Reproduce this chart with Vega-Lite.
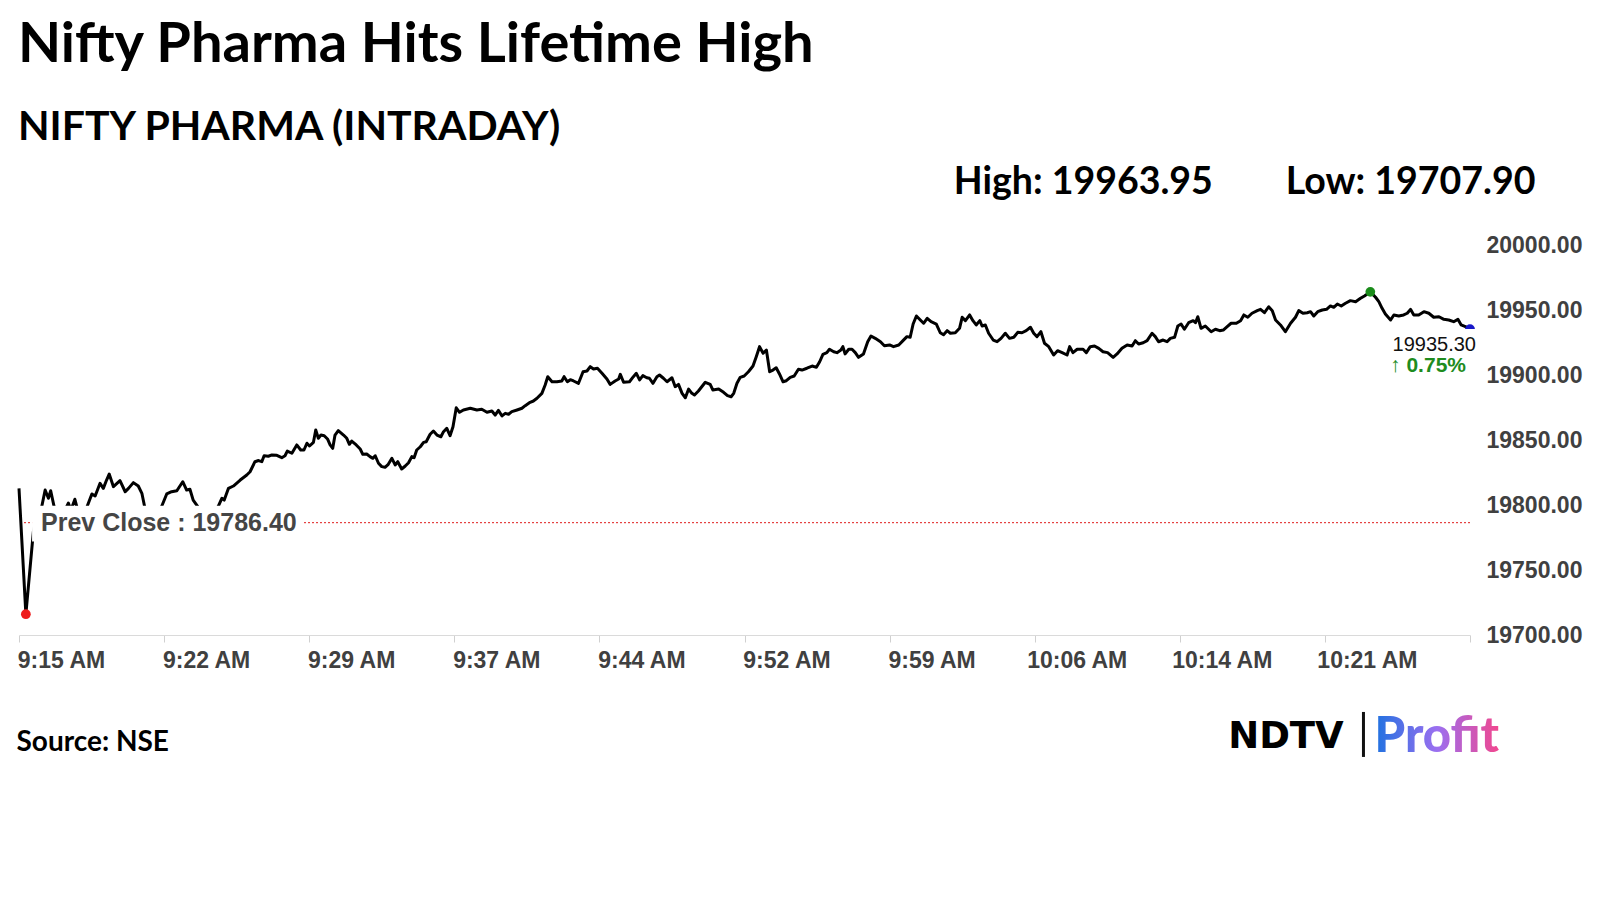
{
  "$schema": "https://vega.github.io/schema/vega-lite/v6.json",
  "width": 1451,
  "height": 390,
  "autosize": {"type": "none"},
  "padding": {"left": 19, "top": 245, "right": 130, "bottom": 265},
  "background": "white",
  "config": {"view": {"stroke": null}},
  "title": {
    "text": "Nifty Pharma Hits Lifetime High",
    "subtitle": "NIFTY PHARMA (INTRADAY)",
    "anchor": "start",
    "frame": "group",
    "offset": 14,
    "dx": -1,
    "font": "Lato",
    "fontSize": 56,
    "fontWeight": "bold",
    "color": "#000000",
    "subtitleFont": "Lato",
    "subtitleFontSize": 41,
    "subtitleFontWeight": "bold",
    "subtitleColor": "#000000",
    "subtitlePadding": 34
  },
  "datasets": {
    "series": [
      {"t":"09:15:00","v":19812.8},{"t":"09:15:21","v":19716.0},{"t":"09:15:44","v":19779.5},{"t":"09:15:55","v":19792.3},{"t":"09:16:10","v":19799.2},{"t":"09:16:20","v":19811.5},{"t":"09:16:30","v":19805.2},{"t":"09:16:37","v":19811.0},{"t":"09:16:47","v":19799.2},{"t":"09:17:06","v":19791.5},
      {"t":"09:17:24","v":19797.7},{"t":"09:17:31","v":19801.5},{"t":"09:17:39","v":19796.2},{"t":"09:17:51","v":19804.4},{"t":"09:18:01","v":19794.6},{"t":"09:18:16","v":19790.0},{"t":"09:18:29","v":19799.2},{"t":"09:18:43","v":19808.5},{"t":"09:18:53","v":19806.9},{"t":"09:19:08","v":19816.7},
      {"t":"09:19:18","v":19812.8},{"t":"09:19:28","v":19819.2},{"t":"09:19:36","v":19823.8},{"t":"09:19:49","v":19814.1},{"t":"09:20:09","v":19818.7},{"t":"09:20:25","v":19810.2},{"t":"09:20:35","v":19812.8},{"t":"09:20:50","v":19817.2},{"t":"09:21:05","v":19814.6},{"t":"09:21:16","v":19809.0},
      {"t":"09:21:24","v":19799.2},{"t":"09:21:41","v":19788.5},{"t":"09:21:59","v":19793.1},{"t":"09:22:17","v":19799.2},{"t":"09:22:32","v":19808.5},{"t":"09:22:47","v":19810.2},{"t":"09:23:03","v":19811.0},{"t":"09:23:21","v":19817.9},{"t":"09:23:33","v":19811.5},{"t":"09:23:43","v":19812.1},
      {"t":"09:23:53","v":19803.8},{"t":"09:24:06","v":19799.2},{"t":"09:24:23","v":19791.5},{"t":"09:24:45","v":19789.2},{"t":"09:24:57","v":19794.6},{"t":"09:25:10","v":19799.2},{"t":"09:25:21","v":19805.2},{"t":"09:25:28","v":19803.8},{"t":"09:25:41","v":19812.8},{"t":"09:25:56","v":19814.6},
      {"t":"09:26:17","v":19819.2},{"t":"09:26:37","v":19823.1},{"t":"09:26:47","v":19825.6},{"t":"09:27:02","v":19833.3},{"t":"09:27:13","v":19834.2},{"t":"09:27:23","v":19833.3},{"t":"09:27:30","v":19837.9},{"t":"09:27:43","v":19837.5},{"t":"09:27:54","v":19838.5},{"t":"09:28:09","v":19838.2},
      {"t":"09:28:24","v":19836.4},{"t":"09:28:34","v":19837.9},{"t":"09:28:41","v":19841.5},{"t":"09:28:55","v":19839.8},{"t":"09:29:10","v":19846.2},{"t":"09:29:22","v":19842.3},{"t":"09:29:32","v":19842.3},{"t":"09:29:41","v":19847.5},{"t":"09:29:49","v":19845.4},{"t":"09:30:01","v":19848.2},
      {"t":"09:30:08","v":19857.7},{"t":"09:30:16","v":19851.3},{"t":"09:30:24","v":19853.8},{"t":"09:30:34","v":19853.3},{"t":"09:30:44","v":19850.8},{"t":"09:30:52","v":19846.2},{"t":"09:31:00","v":19843.6},{"t":"09:31:07","v":19853.8},{"t":"09:31:17","v":19857.2},{"t":"09:31:33","v":19853.8},
      {"t":"09:31:43","v":19851.3},{"t":"09:31:51","v":19846.7},{"t":"09:31:58","v":19849.2},{"t":"09:32:12","v":19846.2},{"t":"09:32:24","v":19843.1},{"t":"09:32:32","v":19839.0},{"t":"09:32:44","v":19839.2},{"t":"09:32:54","v":19837.2},{"t":"09:33:03","v":19835.9},{"t":"09:33:10","v":19837.9},
      {"t":"09:33:20","v":19832.1},{"t":"09:33:30","v":19829.5},{"t":"09:33:40","v":19829.0},{"t":"09:33:50","v":19831.3},{"t":"09:34:01","v":19835.9},{"t":"09:34:11","v":19830.8},{"t":"09:34:19","v":19833.3},{"t":"09:34:31","v":19827.7},{"t":"09:34:42","v":19830.0},{"t":"09:34:52","v":19832.5},
      {"t":"09:35:02","v":19837.2},{"t":"09:35:09","v":19836.4},{"t":"09:35:17","v":19842.3},{"t":"09:35:28","v":19844.8},{"t":"09:35:38","v":19848.2},{"t":"09:35:46","v":19848.7},{"t":"09:35:58","v":19854.4},{"t":"09:36:08","v":19856.9},{"t":"09:36:19","v":19853.8},{"t":"09:36:31","v":19852.5},
      {"t":"09:36:39","v":19856.4},{"t":"09:36:49","v":19859.0},{"t":"09:36:59","v":19853.3},{"t":"09:37:08","v":19860.2},{"t":"09:37:18","v":19874.8},{"t":"09:37:28","v":19871.3},{"t":"09:37:40","v":19873.1},{"t":"09:38:01","v":19874.4},{"t":"09:38:21","v":19873.1},{"t":"09:38:36","v":19873.6},
      {"t":"09:38:52","v":19871.3},{"t":"09:39:07","v":19872.3},{"t":"09:39:17","v":19869.2},{"t":"09:39:27","v":19872.8},{"t":"09:39:38","v":19868.5},{"t":"09:39:48","v":19870.5},{"t":"09:39:58","v":19869.8},{"t":"09:40:08","v":19871.8},{"t":"09:40:24","v":19873.1},{"t":"09:40:39","v":19874.4},
      {"t":"09:40:49","v":19876.4},{"t":"09:41:04","v":19879.0},{"t":"09:41:14","v":19880.0},{"t":"09:41:25","v":19882.1},{"t":"09:41:40","v":19885.9},{"t":"09:41:50","v":19892.3},{"t":"09:41:58","v":19898.7},{"t":"09:42:11","v":19894.8},{"t":"09:42:26","v":19894.8},{"t":"09:42:41","v":19895.4},
      {"t":"09:42:48","v":19898.7},{"t":"09:42:58","v":19894.8},{"t":"09:43:07","v":19896.4},{"t":"09:43:17","v":19895.4},{"t":"09:43:32","v":19893.6},{"t":"09:43:46","v":19902.5},{"t":"09:43:58","v":19903.1},{"t":"09:44:08","v":19906.4},{"t":"09:44:18","v":19904.6},{"t":"09:44:30","v":19905.2},
      {"t":"09:44:44","v":19901.3},{"t":"09:44:59","v":19896.9},{"t":"09:45:09","v":19892.8},{"t":"09:45:24","v":19895.4},{"t":"09:45:35","v":19896.9},{"t":"09:45:40","v":19900.5},{"t":"09:45:50","v":19894.4},{"t":"09:46:08","v":19894.8},{"t":"09:46:20","v":19898.7},{"t":"09:46:29","v":19901.3},
      {"t":"09:46:39","v":19896.2},{"t":"09:46:49","v":19899.5},{"t":"09:47:01","v":19897.9},{"t":"09:47:09","v":19897.5},{"t":"09:47:20","v":19893.6},{"t":"09:47:32","v":19898.7},{"t":"09:47:40","v":19900.0},{"t":"09:47:52","v":19897.5},{"t":"09:48:03","v":19894.8},{"t":"09:48:18","v":19897.9},
      {"t":"09:48:28","v":19891.0},{"t":"09:48:38","v":19892.8},{"t":"09:48:49","v":19885.9},{"t":"09:48:59","v":19882.5},{"t":"09:49:09","v":19889.2},{"t":"09:49:19","v":19885.9},{"t":"09:49:27","v":19884.6},{"t":"09:49:39","v":19887.7},{"t":"09:50:00","v":19894.4},{"t":"09:50:15","v":19892.8},
      {"t":"09:50:23","v":19888.5},{"t":"09:50:41","v":19889.2},{"t":"09:50:56","v":19886.7},{"t":"09:51:08","v":19884.1},{"t":"09:51:19","v":19883.3},{"t":"09:51:27","v":19885.9},{"t":"09:51:37","v":19893.6},{"t":"09:51:47","v":19898.2},{"t":"09:51:59","v":19899.2},{"t":"09:52:12","v":19902.5},
      {"t":"09:52:26","v":19906.9},{"t":"09:52:36","v":19914.1},{"t":"09:52:46","v":19921.8},{"t":"09:52:57","v":19916.7},{"t":"09:53:07","v":19919.2},{"t":"09:53:17","v":19902.5},{"t":"09:53:27","v":19903.8},{"t":"09:53:37","v":19905.6},{"t":"09:53:47","v":19900.8},{"t":"09:53:58","v":19894.8},
      {"t":"09:54:08","v":19895.6},{"t":"09:54:20","v":19898.2},{"t":"09:54:32","v":19899.2},{"t":"09:54:45","v":19904.4},{"t":"09:54:56","v":19903.8},{"t":"09:55:11","v":19905.2},{"t":"09:55:27","v":19906.9},{"t":"09:55:40","v":19905.9},{"t":"09:55:50","v":19910.2},{"t":"09:56:00","v":19915.9},
      {"t":"09:56:12","v":19917.2},{"t":"09:56:20","v":19919.8},{"t":"09:56:33","v":19917.9},{"t":"09:56:43","v":19917.2},{"t":"09:56:55","v":19919.2},{"t":"09:57:01","v":19921.8},{"t":"09:57:08","v":19916.2},{"t":"09:57:19","v":19919.8},{"t":"09:57:29","v":19919.8},{"t":"09:57:39","v":19917.2},
      {"t":"09:57:49","v":19913.6},{"t":"09:58:04","v":19916.2},{"t":"09:58:17","v":19925.6},{"t":"09:58:27","v":19930.0},{"t":"09:58:40","v":19928.2},{"t":"09:58:56","v":19925.6},{"t":"09:59:08","v":19922.5},{"t":"09:59:24","v":19923.1},{"t":"09:59:36","v":19921.8},{"t":"09:59:52","v":19923.1},
      {"t":"10:00:05","v":19926.4},{"t":"10:00:17","v":19929.5},{"t":"10:00:27","v":19929.0},{"t":"10:00:36","v":19939.2},{"t":"10:00:46","v":19945.4},{"t":"10:00:58","v":19942.3},{"t":"10:01:08","v":19939.8},{"t":"10:01:19","v":19943.6},{"t":"10:01:31","v":19941.0},{"t":"10:01:47","v":19939.2},
      {"t":"10:01:59","v":19932.5},{"t":"10:02:09","v":19931.0},{"t":"10:02:20","v":19934.1},{"t":"10:02:30","v":19932.1},{"t":"10:02:45","v":19932.5},{"t":"10:02:58","v":19935.9},{"t":"10:03:06","v":19944.4},{"t":"10:03:16","v":19941.8},{"t":"10:03:29","v":19946.2},{"t":"10:03:39","v":19941.8},
      {"t":"10:03:49","v":19938.5},{"t":"10:04:00","v":19941.8},{"t":"10:04:07","v":19937.7},{"t":"10:04:17","v":19938.5},{"t":"10:04:27","v":19932.1},{"t":"10:04:41","v":19926.9},{"t":"10:04:53","v":19925.6},{"t":"10:05:05","v":19928.2},{"t":"10:05:18","v":19932.1},{"t":"10:05:31","v":19928.2},
      {"t":"10:05:44","v":19929.0},{"t":"10:05:56","v":19932.8},{"t":"10:06:09","v":19932.5},{"t":"10:06:22","v":19934.1},{"t":"10:06:35","v":19936.7},{"t":"10:06:45","v":19932.1},{"t":"10:06:55","v":19929.5},{"t":"10:07:07","v":19933.3},{"t":"10:07:18","v":19924.4},{"t":"10:07:31","v":19921.8},
      {"t":"10:07:46","v":19915.4},{"t":"10:07:58","v":19918.7},{"t":"10:08:12","v":19917.2},{"t":"10:08:27","v":19915.4},{"t":"10:08:35","v":19921.8},{"t":"10:08:45","v":19917.2},{"t":"10:08:58","v":19919.8},{"t":"10:09:16","v":19919.8},{"t":"10:09:26","v":19917.2},{"t":"10:09:38","v":19921.8},
      {"t":"10:09:51","v":19922.3},{"t":"10:10:04","v":19920.5},{"t":"10:10:17","v":19917.9},{"t":"10:10:31","v":19917.2},{"t":"10:10:48","v":19913.6},{"t":"10:11:00","v":19916.2},{"t":"10:11:15","v":19920.5},{"t":"10:11:31","v":19923.1},{"t":"10:11:46","v":19922.3},{"t":"10:11:56","v":19926.4},
      {"t":"10:12:06","v":19923.8},{"t":"10:12:20","v":19924.8},{"t":"10:12:32","v":19926.4},{"t":"10:12:47","v":19932.1},{"t":"10:12:57","v":19929.5},{"t":"10:13:07","v":19925.6},{"t":"10:13:21","v":19926.9},{"t":"10:13:33","v":19925.6},{"t":"10:13:43","v":19928.2},{"t":"10:13:56","v":19929.0},
      {"t":"10:14:06","v":19937.7},{"t":"10:14:16","v":19939.2},{"t":"10:14:26","v":19935.2},{"t":"10:14:39","v":19940.2},{"t":"10:14:53","v":19941.8},{"t":"10:15:00","v":19940.2},{"t":"10:15:07","v":19944.8},{"t":"10:15:17","v":19935.9},{"t":"10:15:30","v":19937.7},{"t":"10:15:48","v":19933.3},
      {"t":"10:16:01","v":19935.2},{"t":"10:16:14","v":19934.1},{"t":"10:16:25","v":19934.6},{"t":"10:16:37","v":19937.2},{"t":"10:16:49","v":19939.8},{"t":"10:17:05","v":19939.8},{"t":"10:17:18","v":19941.8},{"t":"10:17:28","v":19946.2},{"t":"10:17:40","v":19944.4},{"t":"10:17:53","v":19947.5},
      {"t":"10:18:09","v":19949.5},{"t":"10:18:19","v":19950.5},{"t":"10:18:31","v":19947.9},{"t":"10:18:44","v":19952.5},{"t":"10:18:55","v":19949.5},{"t":"10:19:05","v":19942.3},{"t":"10:19:20","v":19938.5},{"t":"10:19:35","v":19933.3},{"t":"10:19:51","v":19939.8},{"t":"10:20:06","v":19944.4},
      {"t":"10:20:16","v":19949.5},{"t":"10:20:29","v":19947.5},{"t":"10:20:42","v":19947.9},{"t":"10:20:52","v":19948.7},{"t":"10:21:02","v":19945.4},{"t":"10:21:14","v":19948.7},{"t":"10:21:28","v":19950.0},{"t":"10:21:41","v":19950.5},{"t":"10:21:53","v":19953.1},{"t":"10:22:03","v":19952.1},
      {"t":"10:22:14","v":19954.6},{"t":"10:22:26","v":19953.1},{"t":"10:22:39","v":19955.2},{"t":"10:22:54","v":19957.2},{"t":"10:23:10","v":19956.4},{"t":"10:23:25","v":19959.0},{"t":"10:23:37","v":19960.8},{"t":"10:23:55","v":19963.95},{"t":"10:24:11","v":19959.8},{"t":"10:24:21","v":19956.4},
      {"t":"10:24:31","v":19951.3},{"t":"10:24:41","v":19946.9},{"t":"10:24:57","v":19942.3},{"t":"10:25:07","v":19946.2},{"t":"10:25:22","v":19945.4},{"t":"10:25:37","v":19946.2},{"t":"10:25:48","v":19947.5},{"t":"10:25:58","v":19950.5},{"t":"10:26:08","v":19946.2},{"t":"10:26:23","v":19946.2},
      {"t":"10:26:39","v":19948.7},{"t":"10:26:54","v":19947.5},{"t":"10:27:09","v":19944.4},{"t":"10:27:25","v":19944.8},{"t":"10:27:40","v":19942.8},{"t":"10:27:55","v":19942.3},{"t":"10:28:10","v":19941.0},{"t":"10:28:23","v":19942.8},{"t":"10:28:33","v":19938.5},{"t":"10:28:46","v":19937.2},
      {"t":"10:29:00","v":19935.3}
    ],
    "extremes": [
      {"t":"09:15:21","v":19716.0,"k":"low"},
      {"t":"10:23:55","v":19963.95,"k":"high"},
      {"t":"10:29:00","v":19935.3,"k":"close"}
    ]
  },
  "layer": [
    {
      "data": {"values": [{}]},
      "mark": {"type": "rule", "color": "#e01b1b", "strokeWidth": 1, "strokeDash": [2, 2]},
      "encoding": {"y": {"datum": 19786.4, "type": "quantitative"}}
    },
    {
      "data": {"name": "series", "format": {"parse": {"t": "date:'%H:%M:%S'"}}},
      "mark": {"type": "line", "color": "#000000", "strokeWidth": 3, "strokeJoin": "round"},
      "encoding": {
        "x": {
          "field": "t",
          "type": "temporal",
          "scale": {"domain": [
            {"year": 1900, "month": 1, "date": 1, "hours": 9, "minutes": 15, "seconds": 0},
            {"year": 1900, "month": 1, "date": 1, "hours": 10, "minutes": 29, "seconds": 0}
          ]},
          "axis": {
            "values": [
              {"year": 1900, "month": 1, "date": 1, "hours": 9, "minutes": 15, "seconds": 0},
              {"year": 1900, "month": 1, "date": 1, "hours": 9, "minutes": 22, "seconds": 24},
              {"year": 1900, "month": 1, "date": 1, "hours": 9, "minutes": 29, "seconds": 48},
              {"year": 1900, "month": 1, "date": 1, "hours": 9, "minutes": 37, "seconds": 12},
              {"year": 1900, "month": 1, "date": 1, "hours": 9, "minutes": 44, "seconds": 36},
              {"year": 1900, "month": 1, "date": 1, "hours": 9, "minutes": 52, "seconds": 0},
              {"year": 1900, "month": 1, "date": 1, "hours": 9, "minutes": 59, "seconds": 24},
              {"year": 1900, "month": 1, "date": 1, "hours": 10, "minutes": 6, "seconds": 48},
              {"year": 1900, "month": 1, "date": 1, "hours": 10, "minutes": 14, "seconds": 12},
              {"year": 1900, "month": 1, "date": 1, "hours": 10, "minutes": 21, "seconds": 36},
              {"year": 1900, "month": 1, "date": 1, "hours": 10, "minutes": 29, "seconds": 0}
            ],
            "format": "%-I:%M %p",
            "labelExpr": "hours(datum.value) == 10 && minutes(datum.value) == 29 ? '' : datum.label",
            "labelAlign": "center",
            "labelOffset": 42,
            "labelBaseline": "top",
            "labelPadding": 7,
            "labelFont": "Liberation Sans",
            "labelFontSize": 23,
            "labelFontWeight": "bold",
            "labelColor": "#404040",
            "labelOverlap": false,
            "labelFlush": false,
            "labelBound": false,
            "tickSize": 7,
            "tickColor": "#d0d0d0",
            "domainColor": "#dadada",
            "grid": false,
            "title": "Source: NSE",
            "titleX": -3,
            "titleY": 115,
            "titleAlign": "left",
            "titleBaseline": "alphabetic",
            "titleFont": "Lato",
            "titleFontSize": 28,
            "titleFontWeight": "bold",
            "titleColor": "#000000"
          }
        },
        "y": {
          "field": "v",
          "type": "quantitative",
          "scale": {"domain": [19700, 20000], "zero": false, "nice": false},
          "axis": {
            "orient": "right",
            "values": [19700, 19750, 19800, 19850, 19900, 19950, 20000],
            "format": ".2f",
            "labelFont": "Liberation Sans",
            "labelFontSize": 23,
            "labelFontWeight": "bold",
            "labelColor": "#404040",
            "labelPadding": 16,
            "labelAlign": "left",
            "labelBaseline": "middle",
            "labelOverlap": false,
            "labelFlush": false,
            "ticks": false,
            "domain": false,
            "grid": false,
            "title": "High: 19963.95\u00a0\u00a0\u00a0\u00a0\u00a0\u00a0\u00a0\u00a0Low: 19707.90",
            "titleAngle": 0,
            "titleX": 65,
            "titleY": -52,
            "titleAlign": "right",
            "titleBaseline": "alphabetic",
            "titleFont": "Lato",
            "titleFontSize": 37.5,
            "titleFontWeight": "bold",
            "titleColor": "#000000"
          }
        }
      }
    },
    {
      "data": {"name": "extremes", "format": {"parse": {"t": "date:'%H:%M:%S'"}}},
      "mark": {"type": "point", "filled": true, "opacity": 1, "size": 95},
      "encoding": {
        "x": {"field": "t", "type": "temporal"},
        "y": {"field": "v", "type": "quantitative"},
        "color": {"field": "k", "type": "nominal", "legend": null, "scale": {"domain": ["low", "high", "close"], "range": ["#ee1c1c", "#1a8c1a", "#1717c8"]}}
      }
    },
    {
      "data": {"values": [{}]},
      "mark": {"type": "rect", "color": "#ffffff"},
      "encoding": {
        "x": {"datum": {"year": 1900, "month": 1, "date": 1, "hours": 9, "minutes": 15, "seconds": 40}, "type": "temporal"},
        "x2": {"datum": {"year": 1900, "month": 1, "date": 1, "hours": 9, "minutes": 29, "seconds": 26}},
        "y": {"datum": 19799.5, "type": "quantitative"},
        "y2": {"datum": 19772}
      }
    },
    {
      "data": {"values": [{}]},
      "mark": {"type": "rect", "color": "#ffffff"},
      "encoding": {
        "x": {"datum": {"year": 1900, "month": 1, "date": 1, "hours": 10, "minutes": 24, "seconds": 51}, "type": "temporal"},
        "x2": {"datum": {"year": 1900, "month": 1, "date": 1, "hours": 10, "minutes": 29, "seconds": 38}},
        "y": {"datum": 19935.3, "type": "quantitative"},
        "y2": {"datum": 19894.6}
      }
    },
    {
      "data": {"values": [{}]},
      "mark": {"type": "text", "text": "Prev Close : 19786.40", "align": "left", "baseline": "middle", "dx": 22, "font": "Liberation Sans", "fontSize": 25, "fontWeight": "bold", "color": "#454545"},
      "encoding": {
        "x": {"datum": {"year": 1900, "month": 1, "date": 1, "hours": 9, "minutes": 15, "seconds": 0}, "type": "temporal"},
        "y": {"datum": 19786.4, "type": "quantitative"}
      }
    },
    {
      "data": {"values": [{}]},
      "mark": {"type": "text", "text": "19935.30", "align": "right", "baseline": "alphabetic", "dx": 6, "dy": 22, "font": "Liberation Sans", "fontSize": 20, "color": "#111111"},
      "encoding": {
        "x": {"datum": {"year": 1900, "month": 1, "date": 1, "hours": 10, "minutes": 29, "seconds": 0}, "type": "temporal"},
        "y": {"datum": 19935.3, "type": "quantitative"}
      }
    },
    {
      "data": {"values": [{}]},
      "mark": {"type": "text", "text": "↑ 0.75%", "align": "right", "baseline": "alphabetic", "dx": -4, "dy": 43, "font": "Liberation Sans", "fontSize": 21, "fontWeight": "bold", "color": "#1e8c1e"},
      "encoding": {
        "x": {"datum": {"year": 1900, "month": 1, "date": 1, "hours": 10, "minutes": 29, "seconds": 0}, "type": "temporal"},
        "y": {"datum": 19935.3, "type": "quantitative"}
      }
    },
    {
      "data": {"values": [{}]},
      "mark": {"type": "text", "text": "NDTV", "align": "left", "baseline": "alphabetic", "font": "DejaVu Sans", "fontSize": 37, "fontWeight": "bold", "color": "#000000"},
      "encoding": {
        "x": {"datum": {"year": 1900, "month": 1, "date": 1, "hours": 10, "minutes": 16, "seconds": 40}, "type": "temporal"},
        "y": {"datum": 19613.1, "type": "quantitative"}
      }
    },
    {
      "data": {"values": [{}]},
      "mark": {"type": "rule", "color": "#111111", "strokeWidth": 3},
      "encoding": {
        "x": {"datum": {"year": 1900, "month": 1, "date": 1, "hours": 10, "minutes": 23, "seconds": 34}, "type": "temporal"},
        "y": {"datum": 19640.8, "type": "quantitative"},
        "y2": {"datum": 19606.2}
      }
    },
    {
      "data": {"values": [{}]},
      "mark": {
        "type": "text", "text": "Profit", "align": "left", "baseline": "alphabetic", "font": "Lato", "fontSize": 49, "fontWeight": 900,
        "fill": {"gradient": "linear", "x1": 0, "y1": 0, "x2": 1, "y2": 0, "stops": [
          {"offset": 0, "color": "#1f72e0"},
          {"offset": 0.5, "color": "#9b6ff0"},
          {"offset": 1, "color": "#f2478e"}
        ]}
      },
      "encoding": {
        "x": {"datum": {"year": 1900, "month": 1, "date": 1, "hours": 10, "minutes": 24, "seconds": 8}, "type": "temporal"},
        "y": {"datum": 19610, "type": "quantitative"}
      }
    }
  ]
}
